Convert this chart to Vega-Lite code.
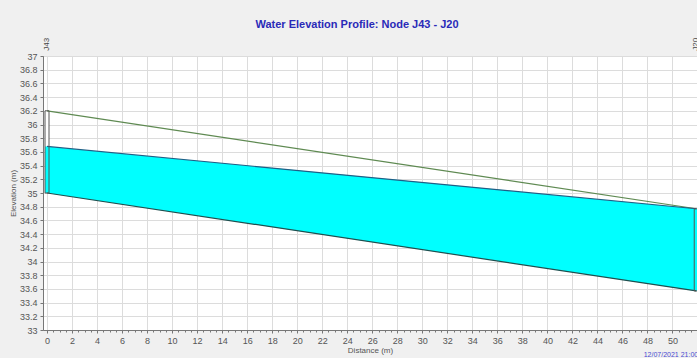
{
  "$schema": "https://vega.github.io/schema/vega-lite/v6.json",
  "width": 654,
  "height": 274,
  "autosize": {"type": "none"},
  "padding": {"left": 43, "top": 56, "right": 0, "bottom": 28},
  "background": "#f0f0f0",
  "view": {"fill": "white", "stroke": "#8a8a8a", "strokeWidth": 1},
  "title": {
    "text": "Water Elevation Profile: Node J43 - J20",
    "anchor": "middle",
    "frame": "group",
    "dx": -13,
    "offset": 8,
    "font": "Liberation Sans",
    "fontSize": 11,
    "fontWeight": "bold",
    "color": "#2a2ab8"
  },
  "config": {
    "axis": {
      "labelFont": "Liberation Sans",
      "titleFont": "Liberation Sans",
      "labelColor": "#555555",
      "titleColor": "#555555",
      "labelFontSize": 9,
      "titleFontSize": 8,
      "titleFontWeight": "normal",
      "gridColor": "#dcdcdc",
      "domainColor": "#777777",
      "tickColor": "#777777",
      "tickSize": 3,
      "labelPadding": 3,
      "labelOverlap": false
    }
  },
  "datasets": {
    "pipe": [
      {"distance": 0, "invert": 35.0, "crown": 36.2, "water": 35.68},
      {"distance": 51.9, "invert": 33.57, "crown": 34.77, "water": 34.77}
    ],
    "nodes": [
      {"node": "J43", "distance": 0, "invert": 35.0, "crown": 36.2, "water": 35.68, "labelY": 37.17},
      {"node": "J20", "distance": 51.9, "invert": 33.57, "crown": 34.77, "water": 34.77, "labelY": 37.17}
    ],
    "stamp": [
      {"text": "12/07/2021 21:00:00", "distance": 47.7, "y": 32.64}
    ]
  },
  "resolve": {"axis": {"x": "independent", "y": "independent"}},
  "layer": [
    {
      "data": {"name": "nodes"},
      "mark": {"type": "rect", "width": 4, "fill": "white"},
      "encoding": {
        "x": {
          "field": "distance",
          "type": "quantitative",
          "scale": {"domain": [-0.32, 51.96], "nice": false, "zero": false},
          "axis": {
            "values": [0,0.5,1,1.5,2,2.5,3,3.5,4,4.5,5,5.5,6,6.5,7,7.5,8,8.5,9,9.5,10,10.5,11,11.5,12,12.5,13,13.5,14,14.5,15,15.5,16,16.5,17,17.5,18,18.5,19,19.5,20,20.5,21,21.5,22,22.5,23,23.5,24,24.5,25,25.5,26,26.5,27,27.5,28,28.5,29,29.5,30,30.5,31,31.5,32,32.5,33,33.5,34,34.5,35,35.5,36,36.5,37,37.5,38,38.5,39,39.5,40,40.5,41,41.5,42,42.5,43,43.5,44,44.5,45,45.5,46,46.5,47,47.5,48,48.5,49,49.5,50,50.5,51,51.5,52],
            "format": "~g",
            "labelExpr": "datum.value % 2 === 0 ? datum.label : ''",
            "title": "Distance (m)",
            "titlePadding": 1,
            "grid": true,
            "gridOpacity": {"condition": {"test": "datum.value % 2 === 0", "value": 1}, "value": 0},
            "tickSize": {"condition": {"test": "datum.value % 2 === 0", "value": 3}, "value": 2},
            "labelFlush": false
          }
        },
        "y": {
          "field": "invert",
          "type": "quantitative",
          "scale": {"domain": [33, 37], "nice": false, "zero": false},
          "axis": {
            "values": [33,33.2,33.4,33.6,33.8,34,34.2,34.4,34.6,34.8,35,35.2,35.4,35.6,35.8,36,36.2,36.4,36.6,36.8,37],
            "format": "~g",
            "title": "Elevation (m)",
            "titlePadding": 2,
            "grid": true,
            "labelFlush": false
          }
        },
        "y2": {"field": "crown"}
      }
    },
    {
      "data": {"name": "nodes"},
      "mark": {"type": "rect", "width": 4, "fill": "#00ffff"},
      "encoding": {
        "x": {"field": "distance", "type": "quantitative", "axis": null},
        "y": {"field": "invert", "type": "quantitative", "axis": null},
        "y2": {"field": "water"}
      }
    },
    {
      "data": {"name": "pipe"},
      "mark": {"type": "area", "color": "#00ffff", "opacity": 1},
      "encoding": {
        "x": {"field": "distance", "type": "quantitative", "axis": null},
        "y": {"field": "invert", "type": "quantitative", "axis": null},
        "y2": {"field": "water"}
      }
    },
    {
      "data": {"name": "pipe"},
      "mark": {"type": "line", "color": "#5f8a52", "strokeWidth": 1.2},
      "encoding": {
        "x": {"field": "distance", "type": "quantitative", "axis": null},
        "y": {"field": "crown", "type": "quantitative", "axis": null}
      }
    },
    {
      "data": {"name": "pipe"},
      "mark": {"type": "line", "color": "#1f5f86", "strokeWidth": 1.2},
      "encoding": {
        "x": {"field": "distance", "type": "quantitative", "axis": null},
        "y": {"field": "water", "type": "quantitative", "axis": null}
      }
    },
    {
      "data": {"name": "pipe"},
      "mark": {"type": "line", "color": "#1e4f4f", "strokeWidth": 1.2},
      "encoding": {
        "x": {"field": "distance", "type": "quantitative", "axis": null},
        "y": {"field": "invert", "type": "quantitative", "axis": null}
      }
    },
    {
      "data": {"name": "nodes"},
      "mark": {"type": "rect", "width": 4, "fill": null, "fillOpacity": 0, "stroke": "#555555", "strokeWidth": 1},
      "encoding": {
        "x": {"field": "distance", "type": "quantitative", "axis": null},
        "y": {"field": "invert", "type": "quantitative", "axis": null},
        "y2": {"field": "crown"}
      }
    },
    {
      "data": {"name": "nodes"},
      "mark": {"type": "text", "angle": 270, "align": "center", "baseline": "middle", "font": "Liberation Sans", "fontSize": 8, "color": "#444444", "clip": false},
      "encoding": {
        "x": {"field": "distance", "type": "quantitative", "axis": null},
        "y": {"field": "labelY", "type": "quantitative", "axis": null},
        "text": {"field": "node"}
      }
    },
    {
      "data": {"name": "stamp"},
      "mark": {"type": "text", "align": "left", "baseline": "middle", "font": "Liberation Sans", "fontSize": 7, "color": "#4a4ad0", "clip": false},
      "encoding": {
        "x": {"field": "distance", "type": "quantitative", "axis": null},
        "y": {"field": "y", "type": "quantitative", "axis": null},
        "text": {"field": "text"}
      }
    }
  ]
}
